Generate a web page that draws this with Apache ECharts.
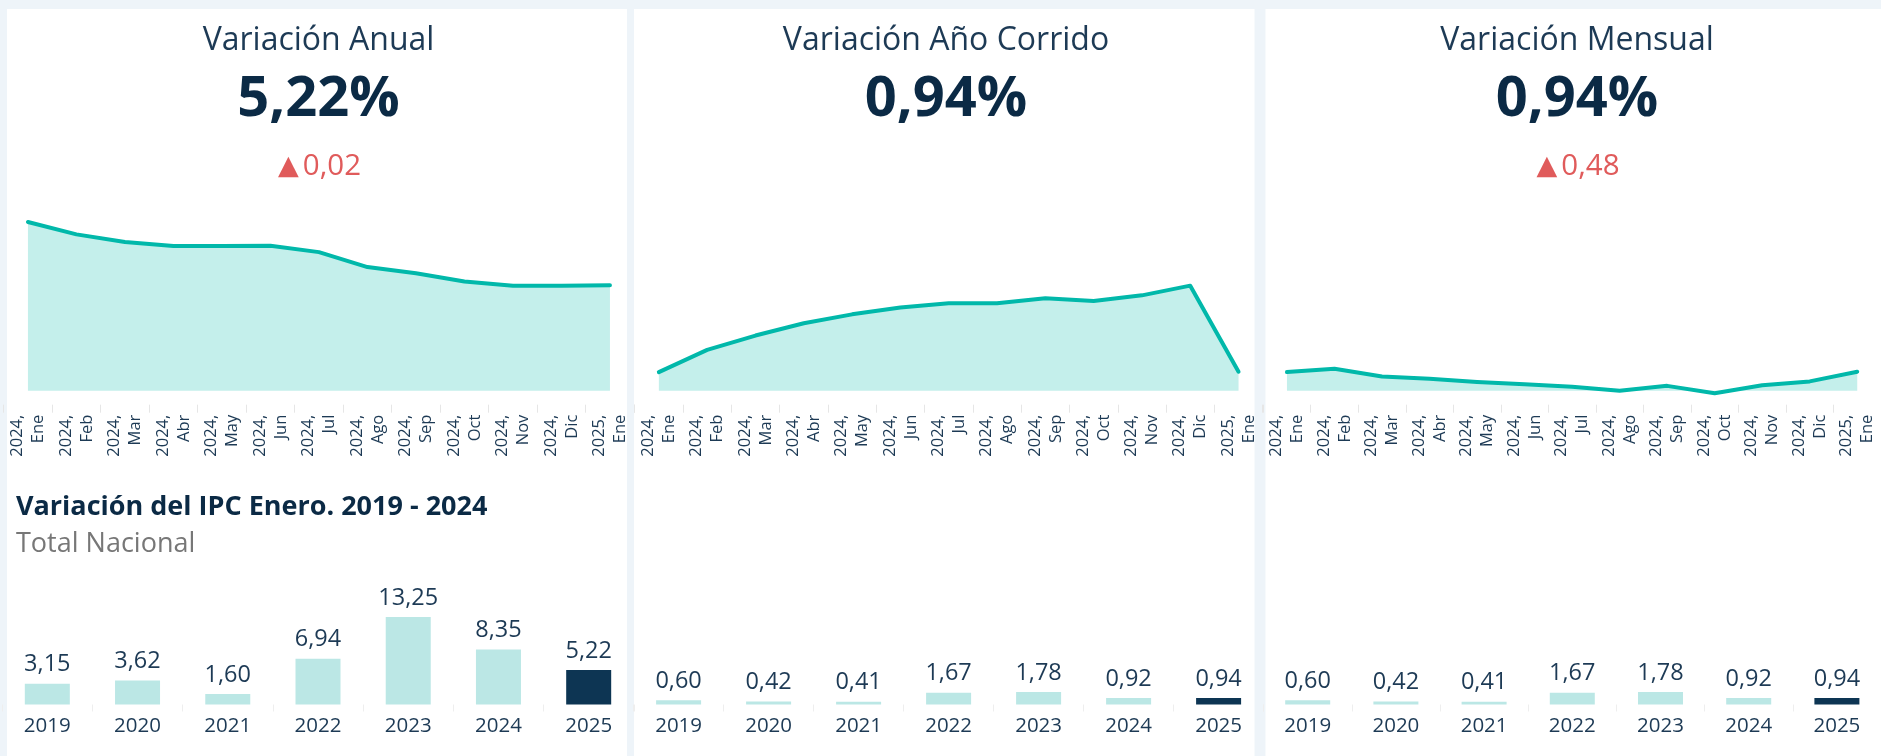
<!DOCTYPE html>
<html>
<head>
<meta charset="utf-8">
<script src="https://cdn.jsdelivr.net/npm/echarts@6/dist/echarts.min.js"></script>
<style>
  html, body { margin: 0; padding: 0; background: #eef4f9; }
  #chart { width: 1881px; height: 756px; }
</style>
</head>
<body>
<div id="chart"></div>
<script>
// datos de las series mensuales (Ene 2024 - Ene 2025)
const monthYears = ['2024', '2024', '2024', '2024', '2024', '2024', '2024', '2024', '2024', '2024', '2024', '2024', '2025']
const monthNames = ['Ene', 'Feb', 'Mar', 'Abr', 'May', 'Jun', 'Jul', 'Ago', 'Sep', 'Oct', 'Nov', 'Dic', 'Ene']
const anualValues = [8.35, 7.74, 7.36, 7.16, 7.16, 7.18, 6.86, 6.12, 5.81, 5.41, 5.20, 5.20, 5.22]
const corridoValues = [0.92, 2.02, 2.73, 3.34, 3.78, 4.12, 4.33, 4.33, 4.58, 4.44, 4.72, 5.20, 0.94]
const mensualValues = [0.92, 1.09, 0.70, 0.59, 0.43, 0.32, 0.20, 0.00, 0.24, -0.13, 0.27, 0.46, 0.94]

// variación de enero por año
const barYears = ['2019', '2020', '2021', '2022', '2023', '2024', '2025']
const eneroAnual = [3.15, 3.62, 1.60, 6.94, 13.25, 8.35, 5.22]
const eneroMensual = [0.60, 0.42, 0.41, 1.67, 1.78, 0.92, 0.94]

const panelTitles = ['Variación Anual', 'Variación Año Corrido', 'Variación Mensual']
const panelKpis = ['5,22%', '0,94%', '0,94%']
const panelDeltas = ['0,02', null, '0,48']

const COLORS = {
    bg: '#eef4f9',
    panel: '#ffffff',
    line: '#01b8aa',
    bar: '#bbe7e5',
    barLast: '#0d3553',
    text: '#1d3a55',
    kpi: '#0b2a45',
    delta: '#e05b5b',
    sub: '#777777',
    tick: '#e6e6e6'
}

const FONT = '"Open Sans", "Noto Sans", sans-serif'

const fmt = v => v.toFixed(2).replace('.', ',')
const monthLabels = monthYears.map((y, i) => y + ',\n' + monthNames[i])

// geometría de los paneles
const panels = [
    { x: 7, w: 620, cx: 318.5 },
    { x: 634, w: 620.5, cx: 946 },
    { x: 1265.5, w: 620, cx: 1577 }
]
const lineGrids = [
    { left: 3.7, width: 630.5 },
    { left: 634.7, width: 628 },
    { left: 1263.2, width: 628 }
]
const barGrids = [
    { left: 2.2, width: 631.6, height: 92.4 },
    { left: 633.6, width: 630, height: 98 },
    { left: 1263.6, width: 630.7, height: 98 }
]
const lineData = [anualValues, corridoValues, mensualValues]
const barData = [eneroAnual, eneroMensual, eneroMensual]

const graphic = []
panels.forEach((p, i) => {
    graphic.push({
        type: 'rect', z: -10, silent: true,
        shape: { x: p.x, y: 9, width: p.w, height: 760 },
        style: { fill: COLORS.panel }
    })
    graphic.push({
        type: 'text', x: p.cx, y: 40.5,
        style: {
            text: panelTitles[i], fill: COLORS.text, fontSize: 32, fontFamily: FONT,
            align: 'center', verticalAlign: 'middle', textAlign: 'center', textVerticalAlign: 'middle'
        }
    })
    graphic.push({
        type: 'text', x: p.cx, y: 100,
        style: {
            text: panelKpis[i], fill: COLORS.kpi, fontSize: 56, fontWeight: 'bold', fontFamily: FONT,
            align: 'center', verticalAlign: 'middle', textAlign: 'center', textVerticalAlign: 'middle'
        }
    })
    if (panelDeltas[i]) {
        graphic.push({
            type: 'text', x: p.cx + 1, y: 167,
            style: {
                text: '{t|▲}{v|' + panelDeltas[i] + '}',
                align: 'center', verticalAlign: 'middle', textAlign: 'center', textVerticalAlign: 'middle',
                rich: {
                    t: { fontSize: 27, fontFamily: '"DejaVu Sans", sans-serif', fill: COLORS.delta, padding: [0, 4, 0, 0] },
                    v: { fontSize: 29.5, fontFamily: FONT, fill: COLORS.delta }
                }
            }
        })
    }
})

graphic.push({
    type: 'text', x: 16, y: 507,
    style: {
        text: 'Variación del IPC Enero. 2019 - 2024', fill: COLORS.kpi, fontSize: 27, fontWeight: 'bold',
        fontFamily: FONT, align: 'left', verticalAlign: 'middle', textAlign: 'left', textVerticalAlign: 'middle'
    }
})
graphic.push({
    type: 'text', x: 16, y: 544.5,
    style: {
        text: 'Total Nacional', fill: COLORS.sub, fontSize: 27,
        fontFamily: FONT, align: 'left', verticalAlign: 'middle', textAlign: 'left', textVerticalAlign: 'middle'
    }
})

const grid = []
const xAxis = []
const yAxis = []
const series = []

lineGrids.forEach((g, i) => {
    grid.push({ left: g.left, width: g.width, top: 208.9, height: 181.8 })
    xAxis.push({
        type: 'category',
        gridIndex: i,
        data: monthLabels,
        boundaryGap: true,
        offset: 14,
        axisLine: { show: false, onZero: false },
        axisTick: { show: true, length: 8, lineStyle: { color: COLORS.tick } },
        axisLabel: {
            interval: 0, rotate: 90, margin: 10,
            fontSize: 16.5, lineHeight: 21, fontFamily: FONT, color: COLORS.text
        },
        splitLine: { show: false }
    })
    yAxis.push({ type: 'value', gridIndex: i, min: 0, max: 9, show: false, splitLine: { show: false } })
    series.push({
        type: 'line',
        xAxisIndex: i,
        yAxisIndex: i,
        data: lineData[i],
        symbol: 'none',
        clip: false,
        silent: true,
        lineStyle: { color: COLORS.line, width: 4, cap: 'round', join: 'round' },
        areaStyle: { color: COLORS.line, opacity: 0.23 },
        animation: false
    })
})

barGrids.forEach((g, i) => {
    const idx = 3 + i
    grid.push({ left: g.left, width: g.width, top: 704.5 - g.height, height: g.height })
    xAxis.push({
        type: 'category',
        gridIndex: idx,
        data: barYears,
        axisLine: { show: false },
        axisTick: { show: true, length: 7, lineStyle: { color: '#eeeeee' } },
        axisLabel: { interval: 0, margin: 11, fontSize: 20.5, fontFamily: FONT, color: COLORS.text },
        splitLine: { show: false }
    })
    yAxis.push({ type: 'value', gridIndex: idx, min: 0, max: 14, show: false, splitLine: { show: false } })
    series.push({
        type: 'bar',
        xAxisIndex: idx,
        yAxisIndex: idx,
        barWidth: 45,
        silent: true,
        data: barData[i].map((v, j) => ({
            value: v,
            itemStyle: { color: j === barData[i].length - 1 ? COLORS.barLast : COLORS.bar }
        })),
        label: {
            show: true,
            position: 'top',
            distance: 7,
            fontSize: 23.5,
            fontFamily: FONT,
            color: COLORS.text,
            formatter: p => fmt(p.value)
        },
        animation: false
    })
})

const chart = echarts.init(document.getElementById('chart'))
chart.setOption({
    backgroundColor: COLORS.bg,
    animation: false,
    graphic: graphic,
    grid: grid,
    xAxis: xAxis,
    yAxis: yAxis,
    series: series
})
</script>
</body>
</html>
